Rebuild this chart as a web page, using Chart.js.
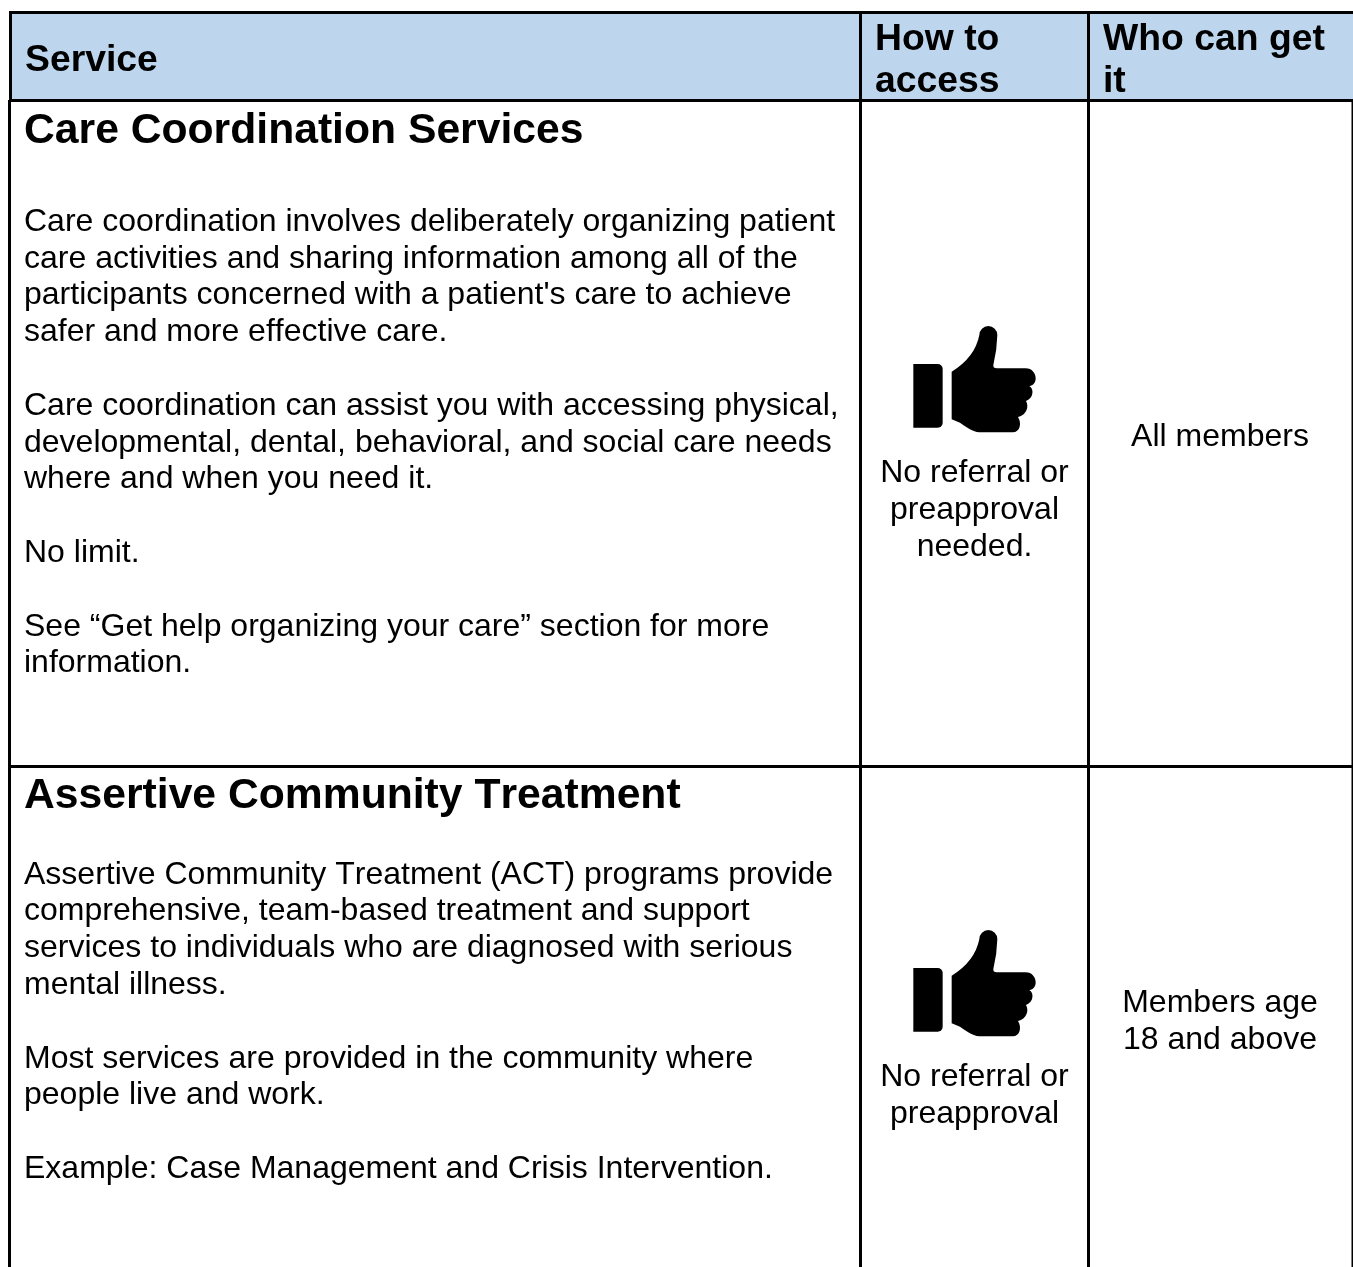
<!DOCTYPE html>
<html>
<head>
<meta charset="utf-8">
<title>Services</title>
<script src="https://cdn.jsdelivr.net/npm/chart.js@4/dist/chart.umd.min.js"></script>
<style>
  html, body { margin: 0; padding: 0; background: #fff; overflow: hidden; }
  canvas { display: block; }
</style>
</head>
<body>
<canvas id="table" width="1353" height="1267"></canvas>
<script>
// table content
const serviceHeader = ["Service"]
const accessHeader = ["How to", "access"]
const whoHeader = ["Who can get", "it"]

const careTitle = ["Care Coordination Services"]
const careIntro = [
  "Care coordination involves deliberately organizing patient",
  "care activities and sharing information among all of the",
  "participants concerned with a patient's care to achieve",
  "safer and more effective care.",
]
const careHelp = [
  "Care coordination can assist you with accessing physical,",
  "developmental, dental, behavioral, and social care needs",
  "where and when you need it.",
]
const careLimit = ["No limit."]
const careSee = [
  "See “Get help organizing your care” section for more",
  "information.",
]
const careAccess = ["No referral or", "preapproval", "needed."]
const careWho = ["All members"]

const actTitle = ["Assertive Community Treatment"]
const actIntro = [
  "Assertive Community Treatment (ACT) programs provide",
  "comprehensive, team-based treatment and support",
  "services to individuals who are diagnosed with serious",
  "mental illness.",
]
const actWhere = [
  "Most services are provided in the community where",
  "people live and work.",
]
const actExample = ["Example: Case Management and Crisis Intervention."]
const actAccess = ["No referral or", "preapproval"]
const actWho = ["Members age", "18 and above"]

// table rules, in axis units
const columnRules = [860.5, 1088.5]
const rowRules = [12.5, 100.5, 766.5]

const BODY_FONT = '32px "Liberation Sans"'
const HEAD_FONT = 'bold 37.33px "Liberation Sans"'
const TITLE_FONT = 'bold 42.67px "Liberation Sans"'

const textBlocks = [
  { lines: serviceHeader, x: 25, y: 71, step: 42, font: HEAD_FONT },
  { lines: accessHeader, x: 875, y: 50, step: 42, font: HEAD_FONT },
  { lines: whoHeader, x: 1103, y: 50, step: 42, font: HEAD_FONT },
  { lines: careTitle, x: 24, y: 143, step: 50, font: TITLE_FONT },
  { lines: careIntro, x: 24, y: 231, step: 36.6, font: BODY_FONT },
  { lines: careHelp, x: 24, y: 415, step: 36.6, font: BODY_FONT },
  { lines: careLimit, x: 24, y: 562, step: 36.6, font: BODY_FONT },
  { lines: careSee, x: 24, y: 635.8, step: 36.6, font: BODY_FONT },
  { lines: careAccess, x: 974.5, y: 482, step: 37, font: BODY_FONT, align: "center" },
  { lines: careWho, x: 1220, y: 446, step: 37, font: BODY_FONT, align: "center" },
  { lines: actTitle, x: 24, y: 808, step: 50, font: TITLE_FONT },
  { lines: actIntro, x: 24, y: 883.8, step: 36.6, font: BODY_FONT },
  { lines: actWhere, x: 24, y: 1067.8, step: 36.6, font: BODY_FONT },
  { lines: actExample, x: 24, y: 1178, step: 36.6, font: BODY_FONT },
  { lines: actAccess, x: 974.5, y: 1086, step: 37, font: BODY_FONT, align: "center" },
  { lines: actWho, x: 1220, y: 1012, step: 37, font: BODY_FONT, align: "center" },
]

// thumbs up icon
const makeThumb = () => {
  const c = document.createElement("canvas")
  c.width = 124
  c.height = 110
  const g = c.getContext("2d")
  g.scale(1 / 3, 1 / 3)
  g.translate(-159, -75)
  g.fillStyle = "#000"
  g.beginPath()
  g.roundRect(160, 192, 88, 191, [0, 15, 15, 0])
  g.fill()
  g.beginPath()
  g.moveTo(275, 215)
  g.quadraticCurveTo(345, 172, 358, 105)
  g.arc(385, 105, 27, Math.PI, 0)
  g.quadraticCurveTo(411, 150, 400, 195)
  g.quadraticCurveTo(399, 205, 410, 205)
  g.lineTo(497, 205)
  g.bezierCurveTo(516, 205, 527, 220, 527, 235)
  g.bezierCurveTo(527, 248, 520, 256, 508, 259)
  g.bezierCurveTo(522, 265, 522, 295, 498, 303)
  g.bezierCurveTo(508, 320, 500, 345, 474, 351)
  g.bezierCurveTo(486, 370, 480, 397, 458, 397)
  g.lineTo(365, 397)
  g.bezierCurveTo(345, 397, 330, 390, 300, 368)
  g.lineTo(275, 358)
  g.closePath()
  g.fill()
  return c
}

const textPlugin = {
  id: "cellText",
  afterDatasetsDraw(chart) {
    const { ctx, scales } = chart
    ctx.save()
    ctx.fillStyle = "#000"
    ctx.textBaseline = "alphabetic"
    ctx.fontKerning = "none"
    textBlocks.forEach((b) => {
      ctx.font = b.font
      ctx.textAlign = b.align || "left"
      b.lines.forEach((line, i) => {
        ctx.fillText(line, scales.x.getPixelForValue(b.x), scales.y.getPixelForValue(b.y + i * b.step))
      })
    })
    ctx.restore()
  },
}

const edge = (points) => ({
  type: "scatter",
  data: points,
  showLine: true,
  borderColor: "#000",
  borderWidth: 3,
  pointRadius: 0,
  clip: false,
})

new Chart(document.getElementById("table"), {
  type: "scatter",
  data: {
    datasets: [
      {
        type: "bar",
        data: [{ x: 681.5, y: [12, 100] }],
        backgroundColor: "#BDD6EE",
        barThickness: 1343,
        borderSkipped: false,
        order: 3,
      },
      edge([{ x: 10.5, y: 11 }, { x: 10.5, y: 100 }]),
      edge([{ x: 9.5, y: 100 }, { x: 9.5, y: 1267 }]),
      edge([{ x: 1353, y: 100 }, { x: 1353, y: 1267 }]),
      {
        type: "scatter",
        data: [{ x: 975, y: 380 }, { x: 975, y: 984 }],
        pointStyle: makeThumb(),
        clip: false,
      },
    ],
  },
  options: {
    responsive: false,
    animation: false,
    events: [],
    layout: { autoPadding: false, padding: { left: 9, top: 11, right: 0, bottom: 0 } },
    plugins: { legend: { display: false }, tooltip: { enabled: false } },
    scales: {
      x: {
        type: "linear",
        offset: false,
        min: 9,
        max: 1353,
        ticks: { display: false, autoSkip: false },
        border: { display: false },
        grid: { color: "#000", lineWidth: 3, drawTicks: false, offset: false, z: 1 },
        afterBuildTicks: (scale) => { scale.ticks = columnRules.map((value) => ({ value })) },
      },
      y: {
        type: "linear",
        reverse: true,
        min: 11,
        max: 1267,
        ticks: { display: false, autoSkip: false },
        border: { display: false },
        grid: { color: "#000", lineWidth: 3, drawTicks: false, z: 1 },
        afterBuildTicks: (scale) => { scale.ticks = rowRules.map((value) => ({ value })) },
      },
    },
  },
  plugins: [textPlugin],
})
</script>
</body>
</html>
